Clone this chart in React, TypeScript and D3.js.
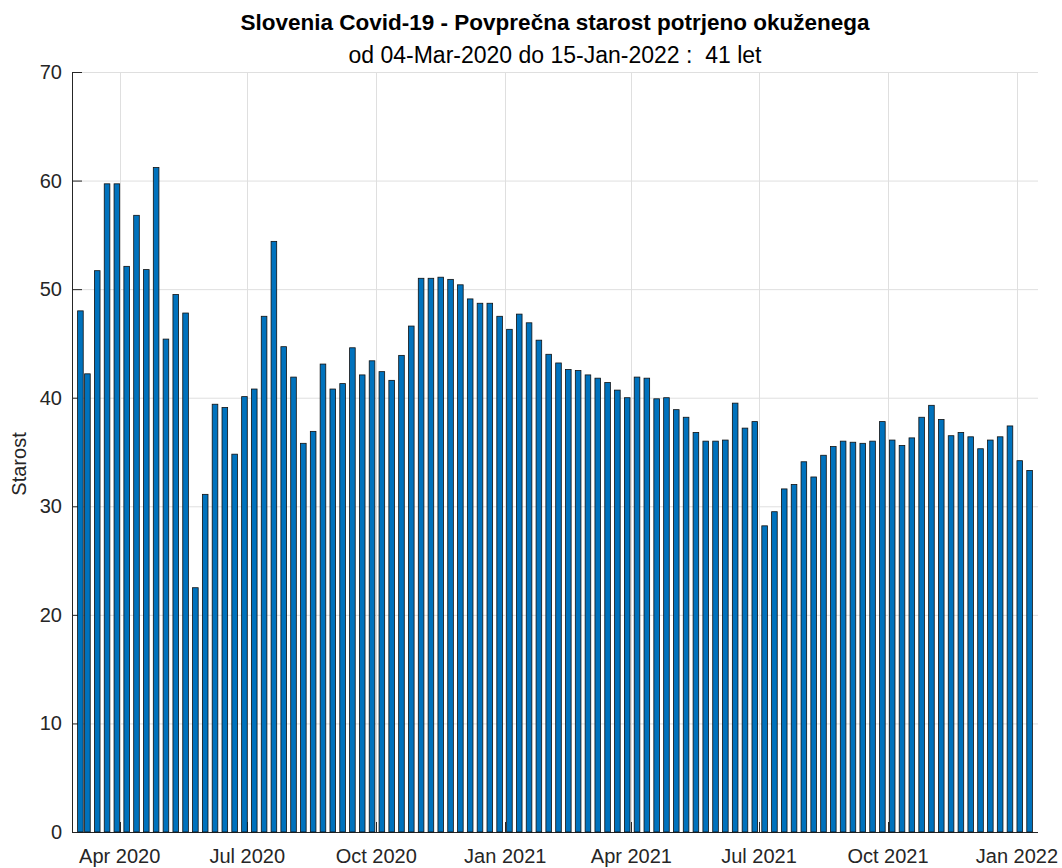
import React, { useEffect, useRef } from 'react';
import * as d3 from 'd3';

// first bar is the partial week starting 04-Mar-2020, then weekly (Mondays)
const firstDay = '2020-03-04';
const firstMonday = '2020-03-09';
const lastMonday = '2022-01-10';

// average age of confirmed cases, per bar
const avgAge = [
  48.0, 42.2, 51.7, 59.7, 59.7, 52.1, 56.8, 51.8, 61.2, 45.4,
  49.5, 47.8, 22.5, 31.1, 39.4, 39.1, 34.8, 40.1, 40.8, 47.5,
  54.4, 44.7, 41.9, 35.8, 36.9, 43.1, 40.8, 41.3, 44.6, 42.1,
  43.4, 42.4, 41.6, 43.9, 46.6, 51.0, 51.0, 51.1, 50.9, 50.4,
  49.1, 48.7, 48.7, 47.5, 46.3, 47.7, 46.9, 45.3, 44.0, 43.2,
  42.6, 42.5, 42.1, 41.8, 41.4, 40.7, 40.0, 41.9, 41.8, 39.9,
  40.0, 38.9, 38.2, 36.8, 36.0, 36.0, 36.1, 39.5, 37.2, 37.8,
  28.2, 29.5, 31.6, 32.0, 34.1, 32.7, 34.7, 35.5, 36.0, 35.9,
  35.8, 36.0, 37.8, 36.1, 35.6, 36.3, 38.2, 39.3, 38.0, 36.5,
  36.8, 36.4, 35.3, 36.1, 36.4, 37.4, 34.2, 33.3,
];

const xTickDates = ['2020-04-01', '2020-07-01', '2020-10-01', '2021-01-01', '2021-04-01', '2021-07-01', '2021-10-01', '2022-01-01'];
const xTickLabels = ['Apr 2020', 'Jul 2020', 'Oct 2020', 'Jan 2021', 'Apr 2021', 'Jul 2021', 'Oct 2021', 'Jan 2022'];
const yTicks = [0, 10, 20, 30, 40, 50, 60, 70];

const titleText = 'Slovenia Covid-19 - Povprečna starost potrjeno okuženega';
const subtitleText = 'od 04-Mar-2020 do 15-Jan-2022 :  41 let';
const yLabel = 'Starost';

const App = () => {
  const svgRef = useRef(null);

  useEffect(() => {
    const width = 1062;
    const height = 868;
    const margin = { top: 72, right: 24, bottom: 36, left: 72 };
    const parse = d3.timeParse('%Y-%m-%d');
    const font = '"Liberation Sans", Arial, Helvetica, sans-serif';
    const axisColor = '#262626';

    const dates = [parse(firstDay), ...d3.timeMonday.range(parse(firstMonday), d3.timeDay.offset(parse(lastMonday), 1))];
    const data = avgAge.map((v, i) => ({ date: dates[i], value: v }));

    const svg = d3.select(svgRef.current);
    svg.selectAll('*').remove();
    svg.attr('width', width).attr('height', height);

    const x = d3.scaleTime()
      .domain([parse('2020-02-27'), parse('2022-01-16')])
      .range([margin.left, width - margin.right]);

    const y = d3.scaleLinear()
      .domain([0, 70])
      .range([height - margin.bottom, margin.top]);

    const tickDates = xTickDates.map(d => parse(d));

    // grid
    const grid = svg.append('g').attr('stroke', '#dfdfdf').attr('stroke-width', 1);
    grid.selectAll('.hgrid')
      .data(yTicks)
      .enter().append('line')
      .attr('x1', margin.left).attr('x2', width - margin.right)
      .attr('y1', d => y(d) + 0.5).attr('y2', d => y(d) + 0.5);
    grid.selectAll('.vgrid')
      .data(tickDates)
      .enter().append('line')
      .attr('x1', d => Math.round(x(d)) + 0.5).attr('x2', d => Math.round(x(d)) + 0.5)
      .attr('y1', margin.top).attr('y2', height - margin.bottom);

    // axis lines + inward ticks
    const axes = svg.append('g').attr('stroke', axisColor).attr('stroke-width', 1);
    axes.append('line')
      .attr('x1', margin.left + 0.5).attr('x2', margin.left + 0.5)
      .attr('y1', margin.top).attr('y2', height - margin.bottom + 0.5);
    axes.append('line')
      .attr('x1', margin.left).attr('x2', width - margin.right)
      .attr('y1', height - margin.bottom + 0.5).attr('y2', height - margin.bottom + 0.5);
    axes.selectAll('.ytick')
      .data(yTicks)
      .enter().append('line')
      .attr('x1', margin.left).attr('x2', margin.left + 10)
      .attr('y1', d => y(d) + 0.5).attr('y2', d => y(d) + 0.5);
    axes.selectAll('.xtick')
      .data(tickDates)
      .enter().append('line')
      .attr('x1', d => Math.round(x(d)) + 0.5).attr('x2', d => Math.round(x(d)) + 0.5)
      .attr('y1', height - margin.bottom).attr('y2', height - margin.bottom - 10);

    // bars (width = 0.8 of the smallest spacing, 5 days)
    svg.append('g')
      .selectAll('rect')
      .data(data)
      .enter().append('rect')
      .attr('x', d => x(d3.timeDay.offset(d.date, -2)))
      .attr('width', d => x(d3.timeDay.offset(d.date, 2)) - x(d3.timeDay.offset(d.date, -2)))
      .attr('y', d => y(d.value))
      .attr('height', d => y(0) - y(d.value))
      .attr('fill', '#0072BD')
      .attr('stroke', '#111')
      .attr('stroke-width', 0.8);

    // tick labels
    svg.append('g')
      .selectAll('text')
      .data(yTicks)
      .enter().append('text')
      .attr('x', margin.left - 10)
      .attr('y', d => y(d))
      .attr('dy', '0.35em')
      .attr('text-anchor', 'end')
      .attr('font-family', font)
      .attr('font-size', 20)
      .attr('fill', axisColor)
      .text(d => d);

    svg.append('g')
      .selectAll('text')
      .data(tickDates)
      .enter().append('text')
      .attr('x', d => x(d))
      .attr('y', 863)
      .attr('text-anchor', 'middle')
      .attr('font-family', font)
      .attr('font-size', 20)
      .attr('fill', axisColor)
      .text((d, i) => xTickLabels[i]);

    svg.append('text')
      .attr('transform', 'translate(26,464) rotate(-90)')
      .attr('text-anchor', 'middle')
      .attr('font-family', font)
      .attr('font-size', 20)
      .attr('fill', axisColor)
      .text(yLabel);

    // title
    const cx = (margin.left + width - margin.right) / 2;
    svg.append('text')
      .attr('x', cx).attr('y', 30)
      .attr('text-anchor', 'middle')
      .attr('font-family', font)
      .attr('font-size', 22.5)
      .attr('font-weight', 'bold')
      .attr('fill', '#000')
      .text(titleText);
    svg.append('text')
      .attr('x', cx).attr('y', 63)
      .attr('text-anchor', 'middle')
      .attr('font-family', font)
      .attr('font-size', 23)
      .attr('fill', '#000')
      .style('white-space', 'pre')
      .text(subtitleText);
  }, []);

  return (
    <div style={{ position: 'absolute', left: 0, top: 0, width: 1062, height: 868, background: '#fff' }}>
      <svg ref={svgRef} style={{ display: 'block' }}></svg>
    </div>
  );
};

export default App;
